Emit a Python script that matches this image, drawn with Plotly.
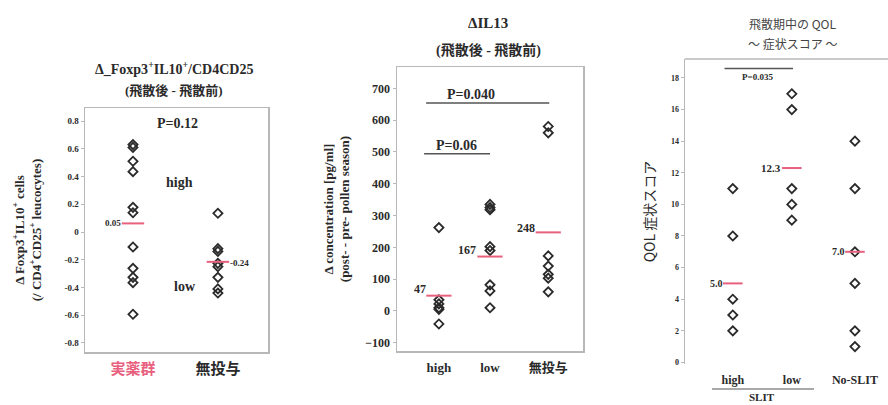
import plotly.graph_objects as go

# ---------------- data ----------------
# Panel 1: ΔFoxp3+IL10+/CD4CD25
p1_groups = ["実薬群", "無投与"]
p1_active = [0.63, 0.61, 0.51, 0.435, 0.178, 0.139, -0.108, -0.262, -0.327, -0.365, -0.593]
p1_none = [0.135, -0.12, -0.14, -0.226, -0.25, -0.327, -0.41, -0.44]
p1_means = [0.062, -0.215]
p1_mean_labels = ["0.05", "-0.24"]
p1_yticks = [0.8, 0.6, 0.4, 0.2, 0, -0.2, -0.4, -0.6, -0.8]
p1_yticklabels = ["0.8", "0.6", "0.4", "0.2", "0", "-0.2", "-0.4", "-0.6", "-0.8"]

# Panel 2: ΔIL13
p2_groups = ["high", "low", "無投与"]
p2_high = [262, 35, 22, 10, 5, -41]
p2_low = [335, 325, 318, 202, 190, 82, 63, 10]
p2_none = [580, 560, 173, 141, 115, 103, 60]
p2_means = [48, 171, 247]
p2_mean_labels = ["47", "167", "248"]
p2_yticks = [-100, 0, 100, 200, 300, 400, 500, 600, 700]

# Panel 3: QOL symptom score
p3_groups = ["high", "low", "No-SLIT"]
p3_high = [11, 8, 4, 3, 2]
p3_low = [17, 16, 11, 10, 9]
p3_none = [14, 11, 7, 5, 2, 1]
p3_means = [5.0, 12.3, 7.0]
p3_mean_labels = ["5.0", "12.3", "7.0"]
p3_yticks = [0, 2, 4, 6, 8, 10, 12, 14, 16, 18]

# ---------------- layout constants ----------------
W, H = 888, 405
p2_xpos = [0, 1, 2.14]
p3_xpos = [0, 1, 2.07]
SERIF = "Liberation Serif, Times New Roman, Noto Sans CJK JP, serif"
INK = "#2a2a2a"
RED = "#e8607e"
FRAME = "#b8b8b8"


def px_x(v):
    return v / W


def px_y(v):
    return 1 - v / H


fig = go.Figure()

marker_style = dict(symbol="diamond-open", size=7, color=INK, line=dict(width=1.8, color=INK))


def add_points(xs, ys, xa, ya):
    fig.add_trace(go.Scatter(x=xs, y=ys, mode="markers", marker=marker_style,
                             xaxis=xa, yaxis=ya, showlegend=False, hoverinfo="y"))


def add_means(xs, ys, xa, ya, size):
    fig.add_trace(go.Scatter(x=xs, y=ys, mode="markers",
                             marker=dict(symbol="line-ew", size=size, color=RED,
                                         line=dict(width=2, color=RED)),
                             xaxis=xa, yaxis=ya, showlegend=False, hoverinfo="y"))


# Panel 1
add_points([0] * len(p1_active), p1_active, "x", "y")
add_points([1] * len(p1_none), p1_none, "x", "y")
add_means([0, 1], p1_means, "x", "y", 16)

# Panel 2
for pos, vals in zip(p2_xpos, [p2_high, p2_low, p2_none]):
    add_points([pos] * len(vals), vals, "x2", "y2")
add_means(p2_xpos, p2_means, "x2", "y2", 18)

# Panel 3
for pos, vals in zip(p3_xpos, [p3_high, p3_low, p3_none]):
    add_points([pos] * len(vals), vals, "x3", "y3")
add_means(p3_xpos, p3_means, "x3", "y3", 14)

axis_common = dict(showgrid=False, zeroline=False, fixedrange=True, automargin=False)

fig.update_layout(
    width=W, height=H,
    margin=dict(l=0, r=0, t=0, b=0, autoexpand=False),
    paper_bgcolor="white", plot_bgcolor="white",
    font=dict(family=SERIF, color=INK),
    showlegend=False,
    xaxis=dict(domain=[px_x(85), px_x(268)], range=[-0.565, 1.59],
               tickvals=[0, 1],
               ticktext=[f"<span style='color:{RED}'>{p1_groups[0]}</span>", p1_groups[1]],
               tickfont=dict(size=15, family=SERIF, weight="bold"),
               ticks="", ticklabelstandoff=2,
               showline=True, mirror=True, linecolor=FRAME, linewidth=1.5,
               anchor="y", **axis_common),
    yaxis=dict(domain=[px_y(352), px_y(108)], range=[-0.865, 0.894],
               tickvals=p1_yticks, ticktext=p1_yticklabels,
               tickfont=dict(size=9, family=SERIF, weight="bold"),
               ticks="outside", ticklen=3, tickcolor=FRAME,
               showline=True, mirror=True, linecolor=FRAME, linewidth=1.5,
               title=dict(text="Δ Foxp3<sup>+</sup>IL10<sup>+</sup> cells<br>(/ CD4<sup>+</sup>CD25<sup>+</sup> leucocytes)",
                          font=dict(size=13, family=SERIF, weight="bold"), standoff=20),
               anchor="x", **axis_common),
    xaxis2=dict(domain=[px_x(397), px_x(583)], range=[-0.82, 2.82],
                tickvals=p2_xpos, ticktext=p2_groups,
                tickfont=dict(size=13, family=SERIF, weight="bold"),
                ticks="", ticklabelstandoff=4,
                showline=True, mirror=True, linecolor=FRAME, linewidth=1.5,
                anchor="y2", **axis_common),
    yaxis2=dict(domain=[px_y(351), px_y(67)], range=[-126, 767],
                tickvals=p2_yticks,
                tickfont=dict(size=12, family=SERIF, weight="bold"),
                ticks="outside", ticklen=3, tickcolor=FRAME,
                showline=True, mirror=True, linecolor=FRAME, linewidth=1.5,
                title=dict(text="Δ concentration [pg/ml]<br>(post- - pre- pollen season)",
                           font=dict(size=13, family=SERIF, weight="bold"), standoff=12),
                anchor="x2", **axis_common),
    xaxis3=dict(domain=[px_x(685), 1.0], range=[-0.81, 2.63],
                tickvals=p3_xpos, ticktext=p3_groups,
                tickfont=dict(size=12, family=SERIF, weight="bold"),
                ticks="", ticklabelstandoff=7,
                showline=False,
                anchor="y3", **axis_common),
    yaxis3=dict(domain=[px_y(364), px_y(59)], range=[-0.1, 19.2],
                tickvals=p3_yticks,
                tickfont=dict(size=8, family=SERIF, weight="bold"),
                ticks="outside", ticklen=3, tickcolor=FRAME,
                showline=True, mirror=False, linecolor=FRAME, linewidth=1.5,
                title=dict(text="QOL 症状スコア",
                           font=dict(size=14, family="Noto Sans CJK JP, sans-serif"), standoff=12),
                anchor="x3", **axis_common),
)

ann = []


def text(x, y, s, size, xref="paper", yref="paper", xanchor="center", weight="bold",
         family=SERIF, color=INK, yanchor="middle"):
    ann.append(dict(x=x, y=y, xref=xref, yref=yref, text=s, showarrow=False,
                    xanchor=xanchor, yanchor=yanchor,
                    font=dict(size=size, family=family, weight=weight, color=color)))


# Titles
text(px_x(174), px_y(68), "Δ_Foxp3<sup>+</sup>IL10<sup>+</sup>/CD4CD25", 14)
text(px_x(174), px_y(90), "(飛散後 - 飛散前)", 13)
text(px_x(488), px_y(23), "ΔIL13", 15)
text(px_x(488), px_y(50), "(飛散後 - 飛散前)", 14)
text(px_x(792), px_y(23), "飛散期中の QOL", 12, weight="normal",
     family="Noto Sans CJK JP, sans-serif", color="#444")
text(px_x(792), px_y(43), "～ 症状スコア ～", 12, weight="normal",
     family="Noto Sans CJK JP, sans-serif", color="#444")

# Panel 1 annotations
text(0.52, 0.78, "P=0.12", 14, xref="x", yref="y")
text(0.55, 0.36, "high", 14, xref="x", yref="y")
text(0.61, -0.39, "low", 14, xref="x", yref="y")
text(-0.12, p1_means[0], p1_mean_labels[0], 9, xref="x", yref="y", xanchor="right")
text(1.12, p1_means[1] - 0.01, p1_mean_labels[1], 9, xref="x", yref="y", xanchor="left")

# Panel 2 annotations
text(-0.22, p2_means[0] + 20, p2_mean_labels[0], 12, xref="x2", yref="y2", xanchor="right")
text(0.76, p2_means[1] + 20, p2_mean_labels[1], 12, xref="x2", yref="y2", xanchor="right")
text(1.92, p2_means[2] + 15, p2_mean_labels[2], 12, xref="x2", yref="y2", xanchor="right")
text(0.62, 680, "P=0.040", 14, xref="x2", yref="y2")
text(0.35, 520, "P=0.06", 14, xref="x2", yref="y2")

# Panel 3 annotations
text(0.42, 18.05, "P=0.035", 9, xref="x3", yref="y3")
text(-0.13, p3_means[0], p3_mean_labels[0], 10, xref="x3", yref="y3", xanchor="right")
text(0.85, p3_means[1], p3_mean_labels[1], 11, xref="x3", yref="y3", xanchor="right")
text(1.93, p3_means[2], p3_mean_labels[2], 10, xref="x3", yref="y3", xanchor="right")
text(px_x(762), px_y(397), "SLIT", 11)

fig.update_layout(annotations=ann)

line_style = dict(color="#555", width=1.5)
fig.update_layout(shapes=[
    dict(type="line", xref="x2", yref="y2", x0=-0.25, x1=2.16, y0=654, y1=654, line=line_style),
    dict(type="line", xref="x2", yref="y2", x0=-0.29, x1=1.0, y0=494, y1=494, line=line_style),
    dict(type="line", xref="x3", yref="y3", x0=-0.14, x1=1.02, y0=18.6, y1=18.6, line=line_style),
    dict(type="line", xref="x3 domain", yref="y3 domain", x0=0, x1=1, y0=1, y1=1,
         line=dict(color=FRAME, width=1.5)),
    dict(type="line", xref="paper", yref="paper", x0=px_x(712), x1=px_x(814),
         y0=px_y(389), y1=px_y(389), line=dict(color="#555", width=1.2)),
])

fig.write_html("out.html", config={"displayModeBar": False, "staticPlot": True},
               post_script="document.body.style.margin='0';document.body.style.overflow='hidden';")
